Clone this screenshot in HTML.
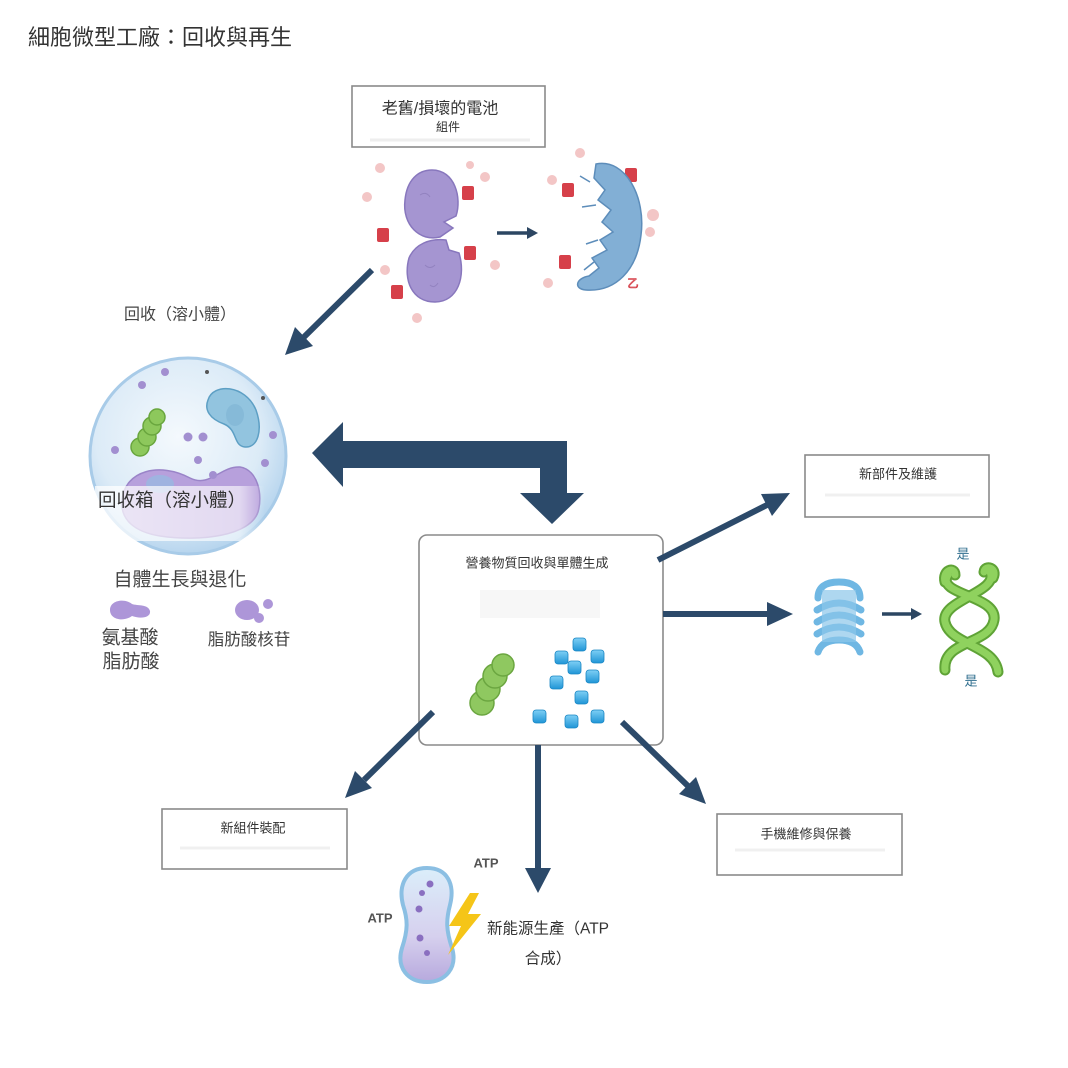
<!DOCTYPE html>
<html><head><meta charset="utf-8">
<style>
html,body{margin:0;padding:0;background:#fff;}
svg{display:block;}
text{font-family:"Liberation Sans","Noto Sans CJK TC",sans-serif;}
</style></head>
<body>
<svg width="1068" height="1068" viewBox="0 0 1068 1068" xmlns="http://www.w3.org/2000/svg">
<defs>
<radialGradient id="cellg" cx="45%" cy="40%" r="60%">
<stop offset="0" stop-color="#f4f9fd"/><stop offset="0.7" stop-color="#dcebf7"/><stop offset="1" stop-color="#b7d5ee"/>
</radialGradient>
<linearGradient id="cube" x1="0" y1="0" x2="0" y2="1">
<stop offset="0" stop-color="#7fd0f5"/><stop offset="1" stop-color="#1f95d6"/>
</linearGradient>
<linearGradient id="atpg" x1="0" y1="0" x2="0" y2="1">
<stop offset="0" stop-color="#dbeefa"/><stop offset="0.6" stop-color="#d6d0ee"/><stop offset="1" stop-color="#b7a9dd"/>
</linearGradient>
<linearGradient id="fade" x1="0" y1="0" x2="1" y2="0">
<stop offset="0" stop-color="#fff" stop-opacity="0.75"/><stop offset="0.85" stop-color="#fff" stop-opacity="0.6"/><stop offset="1" stop-color="#fff" stop-opacity="0"/>
</linearGradient>
</defs>

<!-- Title -->
<text x="28" y="45" font-size="22" fill="#333">細胞微型工廠：回收與再生</text>

<!-- Top box -->
<rect x="352" y="86" width="193" height="61" fill="#fff" stroke="#8a8a8a" stroke-width="1.6"/>
<line x1="370" y1="140" x2="530" y2="140" stroke="#eee" stroke-width="3"/>
<text x="440" y="109" font-size="16" fill="#333" text-anchor="middle" dominant-baseline="central">老舊/損壞的電池</text>
<text x="448" y="127" font-size="12" fill="#333" text-anchor="middle" dominant-baseline="central">組件</text>

<!-- pink dots -->
<g fill="#f3c6c6">
<circle cx="380" cy="168" r="5"/><circle cx="367" cy="197" r="5"/><circle cx="470" cy="165" r="4"/><circle cx="485" cy="177" r="5"/>
<circle cx="385" cy="270" r="5"/><circle cx="417" cy="318" r="5"/><circle cx="495" cy="265" r="5"/>
<circle cx="580" cy="153" r="5"/><circle cx="552" cy="180" r="5"/><circle cx="653" cy="215" r="6"/><circle cx="650" cy="232" r="5"/><circle cx="548" cy="283" r="5"/>
</g>

<!-- purple split mito -->
<path d="M432,170 C455,170 462,198 456,216 L444,222 L453,228 L440,237 C420,242 402,225 405,200 C407,180 418,170 432,170 Z" fill="#a595d1" stroke="#8877bd" stroke-width="1.5"/>
<path d="M446,240 L449,250 L459,253 C466,276 458,302 435,302 C412,302 403,280 409,258 C415,244 430,238 446,240 Z" fill="#a595d1" stroke="#8877bd" stroke-width="1.5"/>
<g stroke="#8a7ab8" stroke-width="1" fill="none" opacity="0.7">
<path d="M420,195 q6,-4 10,2"/><path d="M425,265 q5,5 10,0"/><path d="M430,285 q4,4 8,-2"/>
</g>

<!-- red badges -->
<g fill="#d6404a">
<rect x="377" y="228" width="12" height="14" rx="2"/><rect x="462" y="186" width="12" height="14" rx="2"/>
<rect x="464" y="246" width="12" height="14" rx="2"/><rect x="391" y="285" width="12" height="14" rx="2"/>
<rect x="562" y="183" width="12" height="14" rx="2"/><rect x="625" y="168" width="12" height="14" rx="2"/>
<rect x="559" y="255" width="12" height="14" rx="2"/>
</g>

<!-- small arrow top -->
<line x1="497" y1="233" x2="528" y2="233" stroke="#2c4662" stroke-width="3.5"/>
<polygon points="538,233 527,227 527,239" fill="#2c4662"/>

<!-- blue broken mito -->
<path d="M596,164 C626,158 646,198 641,235 C637,270 616,292 586,290 C573,289 576,278 589,276 L599,268 L592,258 L607,250 L600,240 L613,232 L602,222 L611,210 L598,200 L605,190 L594,178 Z" fill="#82afd5" stroke="#5d8dba" stroke-width="1.5"/>
<g stroke="#5d8dba" stroke-width="1.5" fill="none">
<path d="M590,182 l-10,-6"/><path d="M596,205 l-14,2"/><path d="M598,240 l-12,4"/><path d="M594,262 l-10,8"/>
</g>
<text x="633" y="284" font-size="11" fill="#fff" stroke="#d6404a" stroke-width="0.8" text-anchor="middle" dominant-baseline="central">乙</text>

<!-- arrow to lysosome -->
<line x1="372" y1="270" x2="304" y2="337" stroke="#2c4a6a" stroke-width="6"/>
<polygon points="285,355 313,346 295,327" fill="#2c4a6a"/>

<text x="180" y="315" font-size="16" fill="#444" text-anchor="middle" dominant-baseline="central">回收（溶小體）</text>

<!-- lysosome cell -->
<circle cx="188" cy="456" r="98" fill="url(#cellg)" stroke="#a8cbe8" stroke-width="3"/>
<path d="M122,500 C125,470 160,462 190,478 C210,488 220,466 240,467 C258,470 263,495 258,512 C250,536 200,542 160,536 C135,532 120,520 122,500 Z" fill="#b7a0dc" stroke="#9a84c8" stroke-width="1.5"/>
<ellipse cx="160" cy="484" rx="14" ry="9" fill="#9fb3e0"/>
<g fill="#8dc85c" stroke="#69a63e" stroke-width="1.5">
<circle cx="140" cy="447" r="9"/><circle cx="147" cy="437" r="9"/><circle cx="152" cy="426" r="9"/><circle cx="157" cy="417" r="8"/>
</g>
<path d="M208,400 C213,383 245,384 256,410 C263,430 258,448 245,447 C233,446 238,430 224,424 C210,419 204,410 208,400 Z" fill="#92c4df" stroke="#5d9fc4" stroke-width="1.5"/>
<ellipse cx="235" cy="415" rx="9" ry="11" fill="#7fb4d4" opacity="0.6"/>
<g fill="#a28fd0">
<circle cx="142" cy="385" r="4"/><circle cx="165" cy="372" r="4"/><circle cx="188" cy="437" r="4.5"/><circle cx="203" cy="437" r="4.5"/>
<circle cx="198" cy="460" r="4"/><circle cx="213" cy="475" r="4"/><circle cx="273" cy="435" r="4"/><circle cx="265" cy="463" r="4"/><circle cx="115" cy="450" r="4"/>
</g>
<circle cx="207" cy="372" r="2" fill="#555"/><circle cx="263" cy="398" r="2" fill="#555"/>
<rect x="95" y="486" width="170" height="55" fill="url(#fade)"/>
<text x="172" y="500" font-size="18.5" fill="#333" text-anchor="middle" dominant-baseline="central">回收箱（溶小體）</text>

<text x="180" y="580" font-size="19" fill="#444" text-anchor="middle" dominant-baseline="central">自體生長與退化</text>
<path d="M110,610 C110,600 125,598 132,604 C138,606 148,604 150,611 C151,618 140,619 132,616 C124,622 110,620 110,610 Z" fill="#ad96d8"/>
<ellipse cx="247" cy="610" rx="12" ry="10" fill="#ad96d8"/><circle cx="259" cy="618" r="5" fill="#ad96d8"/><circle cx="268" cy="604" r="5" fill="#ad96d8"/>
<text x="130" y="638" font-size="19" fill="#444" text-anchor="middle" dominant-baseline="central">氨基酸</text>
<text x="131" y="662" font-size="19" fill="#444" text-anchor="middle" dominant-baseline="central">脂肪酸</text>
<text x="249" y="640" font-size="16.5" fill="#444" text-anchor="middle" dominant-baseline="central">脂肪酸核苷</text>

<!-- big double arrow -->
<polygon points="312,453 343,422 343,441 567,441 567,493 584,493 552,524 520,493 540,493 540,468 343,468 343,487" fill="#2c4a6a"/>

<!-- center box -->
<rect x="419" y="535" width="244" height="210" rx="8" fill="#fff" stroke="#8a8a8a" stroke-width="1.6"/>
<rect x="480" y="590" width="120" height="28" fill="#f7f7f7"/>
<text x="537" y="563" font-size="13" fill="#333" text-anchor="middle" dominant-baseline="central">營養物質回收與單體生成</text>
<g fill="#8fc860" stroke="#6ba640" stroke-width="1.5">
<circle cx="482" cy="703" r="12"/><circle cx="488" cy="689" r="12"/><circle cx="495" cy="676" r="12"/><circle cx="503" cy="665" r="11"/>
</g>
<g fill="url(#cube)" stroke="#1a86c4" stroke-width="0.8">
<rect x="573" y="638" width="13" height="13" rx="3"/><rect x="591" y="650" width="13" height="13" rx="3"/><rect x="555" y="651" width="13" height="13" rx="3"/>
<rect x="568" y="661" width="13" height="13" rx="3"/><rect x="586" y="670" width="13" height="13" rx="3"/><rect x="550" y="676" width="13" height="13" rx="3"/>
<rect x="575" y="691" width="13" height="13" rx="3"/><rect x="533" y="710" width="13" height="13" rx="3"/><rect x="565" y="715" width="13" height="13" rx="3"/><rect x="591" y="710" width="13" height="13" rx="3"/>
</g>

<!-- arrows out -->
<g stroke="#2c4a6a" stroke-width="6">
<line x1="658" y1="560" x2="767" y2="505"/>
<line x1="663" y1="614" x2="768" y2="614"/>
<line x1="433" y1="712" x2="364" y2="780"/>
<line x1="538" y1="745" x2="538" y2="869"/>
<line x1="622" y1="722" x2="688" y2="786"/>
</g>
<g fill="#2c4a6a">
<polygon points="790,493 772,516 761,494"/>
<polygon points="793,614 767,602 767,626"/>
<polygon points="345,798 372,788 355,771"/>
<polygon points="538,893 525,868 551,868"/>
<polygon points="706,804 679,794 696,777"/>
</g>

<!-- 新部件及維護 box -->
<rect x="805" y="455" width="184" height="62" fill="#fff" stroke="#8a8a8a" stroke-width="1.6"/>
<line x1="825" y1="495" x2="970" y2="495" stroke="#f0f0f0" stroke-width="3"/>
<text x="898" y="474" font-size="13" fill="#333" text-anchor="middle" dominant-baseline="central">新部件及維護</text>

<!-- blue stacked -->
<g fill="none" stroke="#6fb7e3" stroke-width="7" stroke-linecap="round">
<path d="M818,598 Q818,582 839,582 Q860,582 860,598"/>
<path d="M817,610 Q839,596 861,610"/>
<path d="M817,622 Q839,608 861,622"/>
<path d="M817,634 Q839,620 861,634"/>
<path d="M818,652 Q822,640 839,640 Q856,640 860,652"/>
</g>
<rect x="822" y="590" width="34" height="52" fill="#8cc6ea" opacity="0.7"/>

<line x1="882" y1="614" x2="912" y2="614" stroke="#2c4662" stroke-width="3.5"/>
<polygon points="922,614 911,608 911,620" fill="#2c4662"/>

<!-- green helix -->
<g fill="none" stroke="#5fa336" stroke-width="11" stroke-linecap="round">
<path d="M948,575 C935,595 998,595 994,620 C990,645 942,640 945,670"/>
<path d="M990,572 C1000,592 940,600 945,622 C950,645 995,645 998,672"/>
<path d="M945,582 C942,570 955,566 955,575"/><path d="M993,578 C998,568 985,564 984,572"/>
</g>
<g fill="none" stroke="#8fd25e" stroke-width="7" stroke-linecap="round">
<path d="M948,575 C935,595 998,595 994,620 C990,645 942,640 945,670"/>
<path d="M990,572 C1000,592 940,600 945,622 C950,645 995,645 998,672"/>
<path d="M945,582 C942,570 955,566 955,575"/><path d="M993,578 C998,568 985,564 984,572"/>
</g>
<text x="963" y="554" font-size="13" fill="#2f6e8e" text-anchor="middle" dominant-baseline="central">是</text>
<text x="971" y="681" font-size="13" fill="#2f6e8e" text-anchor="middle" dominant-baseline="central">是</text>

<!-- 新組件裝配 box -->
<rect x="162" y="809" width="185" height="60" fill="#fff" stroke="#8a8a8a" stroke-width="1.6"/>
<line x1="180" y1="848" x2="330" y2="848" stroke="#f0f0f0" stroke-width="3"/>
<text x="253" y="828" font-size="13" fill="#333" text-anchor="middle" dominant-baseline="central">新組件裝配</text>

<!-- 手機維修與保養 box -->
<rect x="717" y="814" width="185" height="61" fill="#fff" stroke="#8a8a8a" stroke-width="1.6"/>
<line x1="735" y1="850" x2="885" y2="850" stroke="#f0f0f0" stroke-width="3"/>
<text x="806" y="834" font-size="13" fill="#333" text-anchor="middle" dominant-baseline="central">手機維修與保養</text>

<!-- ATP cell -->
<path d="M427,868 C448,868 455,885 450,905 C446,920 446,930 452,948 C458,968 445,982 427,982 C408,982 396,968 402,948 C408,930 408,920 403,905 C398,885 406,868 427,868 Z" fill="url(#atpg)" stroke="#8bbfe3" stroke-width="4"/>
<g fill="#8a6fc0"><circle cx="430" cy="884" r="3.5"/><circle cx="422" cy="893" r="3"/><circle cx="419" cy="909" r="3.5"/><circle cx="420" cy="938" r="3.5"/><circle cx="427" cy="953" r="3"/></g>
<polygon points="470,893 449,926 461,926 448,955 481,914 468,914 479,893" fill="#f5c518"/>
<text x="486" y="863" font-size="13" font-weight="bold" fill="#555" text-anchor="middle" dominant-baseline="central">ATP</text>
<text x="380" y="918" font-size="13" font-weight="bold" fill="#555" text-anchor="middle" dominant-baseline="central">ATP</text>
<text x="548" y="929" font-size="15.5" fill="#333" text-anchor="middle" dominant-baseline="central">新能源生產（ATP</text>
<text x="548" y="959" font-size="15.5" fill="#333" text-anchor="middle" dominant-baseline="central">合成）</text>
</svg>
</body></html>
